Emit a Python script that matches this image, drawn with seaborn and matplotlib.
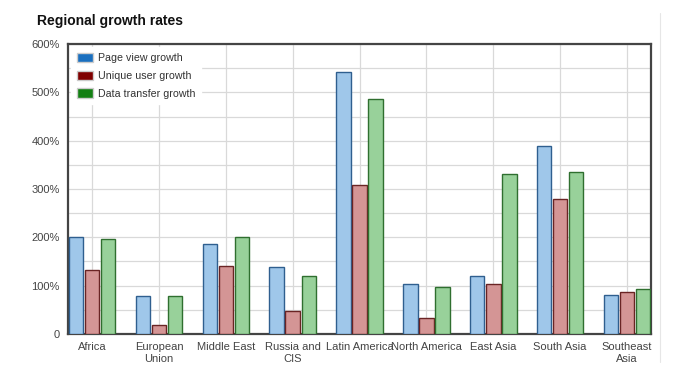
import matplotlib
matplotlib.use('Agg')
import matplotlib.pyplot as plt
from matplotlib.patches import Patch
import pandas as pd
import seaborn as sns

regions = ['Africa', 'European\nUnion', 'Middle East', 'Russia and\nCIS', 'Latin America',
           'North America', 'East Asia', 'South Asia', 'Southeast\nAsia']
series = ['Page view growth', 'Unique user growth', 'Data transfer growth']
page_view = [200, 79, 186, 139, 543, 103, 120, 390, 80]
unique_user = [132, 19, 141, 47, 308, 34, 103, 279, 86]
data_transfer = [196, 79, 200, 121, 486, 97, 332, 335, 93]

fill_colors = ['#9fc7ea', '#d49595', '#98d19a']
edge_colors = ['#2f5f8f', '#6a2424', '#2f6f2f']
legend_colors = ['#1a6fbf', '#7f0000', '#137f13']

df = pd.DataFrame({
    'region': regions * 3,
    'series': [series[0]] * 9 + [series[1]] * 9 + [series[2]] * 9,
    'value': page_view + unique_user + data_transfer,
})

sns.set_style('white')
plt.rcParams['font.family'] = ['Liberation Sans', 'DejaVu Sans']
fig = plt.figure(figsize=(6.82, 3.83), dpi=100)
ax = fig.add_axes([0.0997, 0.128, 0.855, 0.757])

sns.barplot(data=df, x='region', y='value', hue='series', hue_order=series,
            order=regions, palette=fill_colors, saturation=1, width=0.72, gap=0.1,
            linewidth=1.0, legend=False, ax=ax, zorder=3)
for cont, ec in zip(ax.containers, edge_colors):
    for bar in cont:
        bar.set_edgecolor(ec)

ax.set_xlim(-0.36, 8.36)
ax.set_ylim(0, 600)
ax.set_yticks(range(0, 601, 100))
ax.set_yticks(range(50, 600, 100), minor=True)
ax.set_yticklabels(['0'] + [f'{v}%' for v in range(100, 601, 100)])
ax.grid(True, which='both', axis='y', color='#d9d9d9', linewidth=0.9, zorder=0)
ax.grid(True, which='major', axis='x', color='#d9d9d9', linewidth=0.9, zorder=0)
ax.set_axisbelow(True)
ax.tick_params(axis='both', which='both', length=0, labelsize=8, colors='#444444')
ax.tick_params(axis='x', pad=6)
ax.tick_params(axis='y', pad=6)
for lbl in ax.get_xticklabels():
    lbl.set_linespacing(1.25)
ax.set_xlabel('')
ax.set_ylabel('')
for sp in ax.spines.values():
    sp.set_color('#444444')
    sp.set_linewidth(1.6)

handles = [Patch(facecolor=c, edgecolor='#cccccc', label=s) for c, s in zip(legend_colors, series)]
leg = ax.legend(handles=handles, loc='upper left', frameon=True, fontsize=7.7,
                handlelength=1.5, handleheight=1.0, handletextpad=0.5,
                labelspacing=0.7, borderpad=0.5, borderaxespad=0.3)
leg.get_frame().set_edgecolor('white')
leg.get_frame().set_alpha(1)
for t in leg.get_texts():
    t.set_color('#333333')

fig.text(0.054, 0.945, 'Regional growth rates', fontsize=10, fontweight='bold',
         color='#111111', ha='left', va='center')
fig.add_artist(plt.Line2D([0.968, 0.968], [0.055, 0.965], color='#e6e6e6', linewidth=0.8))

fig.savefig('out.png', dpi=100)
